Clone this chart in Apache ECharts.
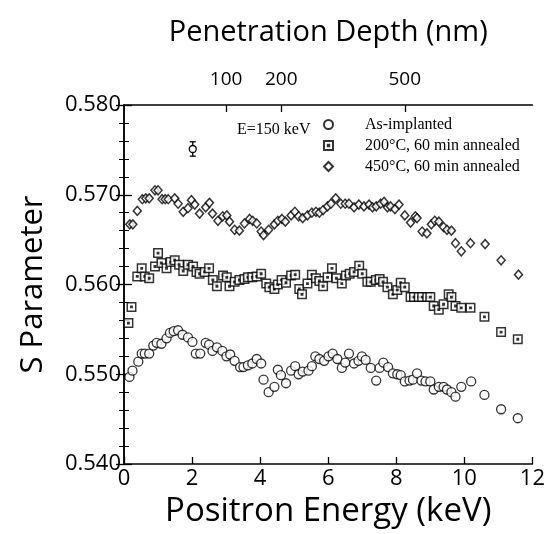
<!DOCTYPE html>
<html>
<head>
<meta charset="utf-8">
<title>S Parameter vs Positron Energy</title>
<script src="https://cdn.jsdelivr.net/npm/echarts@6/dist/echarts.min.js"></script>
<style>
  html, body { margin: 0; padding: 0; background: #fff; }
  #main { width: 548px; height: 534px; }
</style>
</head>
<body>
<div id="main"></div>
<script>
// values
var asImpE = [0.16,0.25,0.42,0.52,0.61,0.74,0.86,0.96,1.10,1.25,1.35,1.46,1.59,1.72,1.88,2.01,2.11,2.24,2.40,2.50,2.60,2.73,2.89,3.01,3.12,3.25,3.41,3.51,3.64,3.77,3.90,4.03,4.10,4.25,4.42,4.52,4.61,4.76,4.91,5.03,5.13,5.25,5.42,5.52,5.62,5.74,5.88,6.01,6.13,6.27,6.40,6.50,6.61,6.76,6.89,6.99,7.10,7.25,7.41,7.51,7.62,7.76,7.90,8.03,8.13,8.25,8.39,8.49,8.61,8.74,8.86,9.00,9.10,9.25,9.39,9.49,9.62,9.74,9.91,10.20,10.59,11.08,11.57];
var asImpS = [0.5497,0.5504,0.5514,0.5523,0.5523,0.5523,0.5532,0.5535,0.5534,0.5540,0.5546,0.5548,0.5549,0.5544,0.5541,0.5536,0.5523,0.5523,0.5535,0.5533,0.5526,0.5530,0.5526,0.5520,0.5522,0.5515,0.5508,0.5508,0.5510,0.5512,0.5517,0.5512,0.5494,0.5480,0.5486,0.5505,0.5499,0.5490,0.5504,0.5509,0.5500,0.5503,0.5504,0.5509,0.5520,0.5517,0.5515,0.5520,0.5523,0.5517,0.5507,0.5513,0.5523,0.5512,0.5515,0.5520,0.5516,0.5507,0.5493,0.5507,0.5513,0.5508,0.5501,0.5500,0.5499,0.5492,0.5493,0.5494,0.5501,0.5493,0.5492,0.5492,0.5483,0.5486,0.5486,0.5483,0.5480,0.5475,0.5486,0.5492,0.5477,0.5461,0.5451];

var ann200E = [0.13,0.22,0.39,0.52,0.61,0.74,0.91,1.00,1.10,1.25,1.37,1.49,1.62,1.74,1.88,2.03,2.13,2.22,2.37,2.50,2.61,2.73,2.91,3.02,3.10,3.25,3.39,3.54,3.64,3.77,3.90,4.03,4.18,4.27,4.42,4.52,4.63,4.76,4.91,5.03,5.15,5.23,5.39,5.52,5.64,5.74,5.85,5.98,6.11,6.24,6.40,6.52,6.63,6.76,6.91,7.00,7.15,7.25,7.40,7.51,7.61,7.74,7.90,8.03,8.13,8.25,8.42,8.52,8.66,8.76,8.91,9.00,9.10,9.25,9.39,9.54,9.62,9.74,9.91,10.18,10.59,11.08,11.57];
var ann200S = [0.5557,0.5575,0.5609,0.5618,0.5609,0.5607,0.5620,0.5635,0.5624,0.5618,0.5625,0.5627,0.5622,0.5615,0.5622,0.5620,0.5614,0.5612,0.5614,0.5618,0.5605,0.5598,0.5610,0.5608,0.5598,0.5603,0.5605,0.5606,0.5608,0.5608,0.5609,0.5612,0.5601,0.5597,0.5595,0.5600,0.5605,0.5602,0.5610,0.5611,0.5595,0.5589,0.5601,0.5611,0.5607,0.5604,0.5598,0.5608,0.5618,0.5607,0.5601,0.5610,0.5612,0.5614,0.5621,0.5612,0.5603,0.5603,0.5605,0.5606,0.5603,0.5597,0.5589,0.5594,0.5602,0.5597,0.5586,0.5586,0.5586,0.5586,0.5586,0.5586,0.5576,0.5572,0.5578,0.5589,0.5586,0.5576,0.5574,0.5574,0.5564,0.5547,0.5539];

var ann450E = [0.17,0.26,0.39,0.54,0.64,0.74,0.91,1.00,1.12,1.21,1.30,1.49,1.59,1.74,1.88,1.98,2.08,2.22,2.40,2.51,2.60,2.76,2.90,3.02,3.10,3.25,3.39,3.54,3.69,3.78,3.90,4.03,4.10,4.25,4.42,4.52,4.64,4.74,4.91,5.02,5.13,5.25,5.39,5.52,5.64,5.74,5.85,5.98,6.08,6.22,6.37,6.50,6.61,6.76,6.90,7.05,7.20,7.30,7.41,7.54,7.64,7.74,7.83,7.96,8.08,8.25,8.42,8.56,8.61,8.76,8.90,9.03,9.13,9.25,9.39,9.49,9.62,9.74,9.91,10.18,10.61,11.08,11.59];
var ann450S = [0.5667,0.5667,0.5682,0.5695,0.5696,0.5696,0.5705,0.5705,0.5695,0.5695,0.5695,0.5696,0.5690,0.5681,0.5685,0.5694,0.5689,0.5679,0.5686,0.5691,0.5679,0.5671,0.5676,0.5677,0.5670,0.5661,0.5660,0.5668,0.5673,0.5671,0.5668,0.5659,0.5655,0.5661,0.5667,0.5671,0.5673,0.5670,0.5677,0.5681,0.5676,0.5674,0.5677,0.5680,0.5681,0.5680,0.5683,0.5687,0.5690,0.5696,0.5690,0.5690,0.5690,0.5686,0.5689,0.5687,0.5689,0.5686,0.5687,0.5690,0.5692,0.5686,0.5687,0.5684,0.5689,0.5677,0.5669,0.5676,0.5674,0.5659,0.5657,0.5667,0.5671,0.5670,0.5664,0.5661,0.5660,0.5646,0.5637,0.5646,0.5645,0.5627,0.5611];

var seriesNames = ['As-implanted', '200\u00b0C, 60 min annealed', '450\u00b0C, 60 min annealed'];

// typical error bar shown in the corner
var errE = [2.02];
var errS = [0.5751];
var errHalf = [0.0008];

// top axis: penetration depth at given energies
var depthLabels = ['100', '200', '500'];
var depthEnergies = [3.0, 4.62, 8.25];

function pairs(xs, ys) {
  return xs.map(function (x, i) { return [x, ys[i]]; });
}

var squareDot = 'path://M0,0H10V10H0Z M4.2,4.2H5.8V5.8H4.2Z';

var myChart = echarts.init(document.getElementById('main'));

var fontSans = '"Open Sans", "DejaVu Sans", sans-serif';
var fontSerif = '"Liberation Serif", "DejaVu Serif", serif';

var axisLine = { show: true, lineStyle: { color: '#000', width: 1.5 } };

myChart.setOption({
  animation: false,
  backgroundColor: '#fff',
  grid: { left: 124, right: 14, top: 105, bottom: 70 },
  legend: {
    data: seriesNames,
    orient: 'vertical',
    left: 318,
    top: 111,
    itemWidth: 9,
    itemHeight: 9,
    itemGap: 4,
    textStyle: {
      fontFamily: fontSerif,
      fontSize: 16,
      color: '#000',
      lineHeight: 17,
      padding: [0, 0, 0, 27]
    }
  },
  graphic: [{
    type: 'text',
    left: 237,
    top: 122,
    style: { text: 'E=150 keV', font: '16px ' + fontSerif, fill: '#000' }
  }],
  xAxis: [{
    type: 'value',
    min: 0,
    max: 12,
    interval: 2,
    position: 'bottom',
    name: 'Positron Energy (keV)',
    nameLocation: 'middle',
    nameGap: 30,
    nameTextStyle: { fontFamily: fontSans, fontSize: 33, color: '#000' },
    axisLine: axisLine,
    axisTick: { show: true, inside: true, length: 7, lineStyle: { color: '#000', width: 1.3 } },
    axisLabel: { fontFamily: fontSans, fontSize: 22, color: '#000', margin: 4, showMinLabel: true, showMaxLabel: true },
    splitLine: { show: false }
  }, {
    type: 'value',
    min: 0,
    max: 12,
    position: 'top',
    name: 'Penetration Depth (nm)',
    nameLocation: 'middle',
    nameGap: 58,
    nameTextStyle: { fontFamily: fontSans, fontSize: 29, color: '#000' },
    axisLine: axisLine,
    axisTick: { show: true, inside: true, length: 7, customValues: depthEnergies, lineStyle: { color: '#000', width: 1.3 } },
    axisLabel: {
      fontFamily: fontSans, fontSize: 19, color: '#000', margin: 16,
      customValues: depthEnergies,
      formatter: function (v) {
        var i = depthEnergies.indexOf(v);
        return i >= 0 ? depthLabels[i] : '';
      }
    },
    splitLine: { show: false }
  }],
  yAxis: [{
    type: 'value',
    min: 0.54,
    max: 0.58,
    interval: 0.01,
    position: 'left',
    name: 'S Parameter',
    nameLocation: 'middle',
    nameGap: 75,
    nameTextStyle: { fontFamily: fontSans, fontSize: 31, color: '#000' },
    axisLine: axisLine,
    axisTick: { show: true, inside: true, length: 8, lineStyle: { color: '#000', width: 1.3 } },
    minorTick: { show: true, splitNumber: 5, length: 5, lineStyle: { color: '#000', width: 1 } },
    axisLabel: {
      fontFamily: fontSans, fontSize: 22, color: '#000', margin: 3,
      formatter: function (v) { return v.toFixed(3); }
    },
    splitLine: { show: false }
  }, {
    type: 'value',
    min: 0.54,
    max: 0.58,
    interval: 0.01,
    position: 'right',
    axisLine: axisLine,
    axisTick: { show: true, inside: true, length: 8, lineStyle: { color: '#000', width: 1.3 } },
    minorTick: { show: true, splitNumber: 5, length: 5, lineStyle: { color: '#000', width: 1 } },
    axisLabel: { show: false },
    splitLine: { show: false }
  }],
  series: [{
    name: seriesNames[0],
    type: 'scatter',
    symbol: 'circle',
    symbolSize: 9,
    itemStyle: { color: '#fff', borderColor: '#000', borderWidth: 1.3 },
    data: pairs(asImpE, asImpS)
  }, {
    name: seriesNames[1],
    type: 'scatter',
    symbol: squareDot,
    symbolSize: 8.5,
    itemStyle: { color: '#fff', borderColor: '#000', borderWidth: 1.5 },
    data: pairs(ann200E, ann200S)
  }, {
    name: seriesNames[2],
    type: 'scatter',
    symbol: 'diamond',
    symbolSize: [8, 9],
    itemStyle: { color: '#fff', borderColor: '#000', borderWidth: 1.5 },
    data: pairs(ann450E, ann450S)
  }, {
    name: 'error',
    type: 'custom',
    data: errE.map(function (x, i) { return [x, errS[i], errHalf[i]]; }),
    renderItem: function (params, api) {
      var x = api.value(0), y = api.value(1), e = api.value(2);
      var top = api.coord([x, y + e]);
      var bot = api.coord([x, y - e]);
      var c = api.coord([x, y]);
      var st = { stroke: '#000', lineWidth: 1.3 };
      return {
        type: 'group',
        children: [
          { type: 'line', shape: { x1: c[0], y1: top[1], x2: c[0], y2: bot[1] }, style: st },
          { type: 'line', shape: { x1: c[0] - 3, y1: top[1], x2: c[0] + 3, y2: top[1] }, style: st },
          { type: 'line', shape: { x1: c[0] - 3, y1: bot[1], x2: c[0] + 3, y2: bot[1] }, style: st },
          { type: 'circle', shape: { cx: c[0], cy: c[1], r: 3.5 }, style: { fill: '#fff', stroke: '#000', lineWidth: 1.3 } }
        ]
      };
    }
  }]
});

window.addEventListener('resize', function () {
  myChart.resize();
});
</script>
</body>
</html>
